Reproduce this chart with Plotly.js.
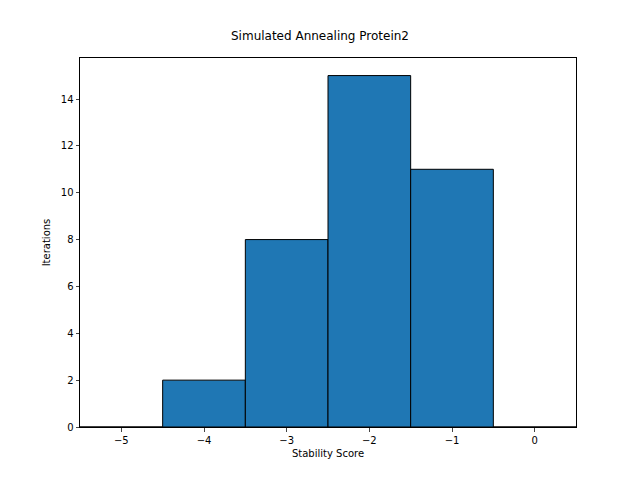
<html>
<head>
<script src="https://cdn.plot.ly/plotly-3.0.1.min.js"></script>
</head>
<body style="margin:0">
<div id="hist" style="width:640px;height:480px"></div>
<script>
var binCenters = [-5, -4, -3, -2, -1, 0];
var counts = [0, 2, 8, 15, 11, 0];
var tickVals = [-5, -4, -3, -2, -1, 0];
var tickText = ['\u22125', '\u22124', '\u22123', '\u22122', '\u22121', '0'];

var trace = {
    x: binCenters,
    y: counts,
    type: 'bar',
    width: 1,
    marker: { color: '#1f77b4', line: { color: 'black', width: 1 } }
};

var layout = {
    width: 640,
    height: 480,
    showlegend: false,
    paper_bgcolor: 'white',
    plot_bgcolor: 'white',
    font: { family: 'DejaVu Sans', size: 10, color: 'black' },
    margin: { l: 80, r: 64, t: 58, b: 53 },
    title: { text: 'Simulated Annealing Protein2', font: { size: 12 }, x: 0.5, y: 0.925, yanchor: 'middle' },
    xaxis: {
        range: [-5.5, 0.5],
        tickvals: tickVals,
        ticktext: tickText,
        ticks: 'outside', ticklen: 3.5,
        showgrid: false, zeroline: false,
        showline: true, mirror: true, linecolor: 'black', linewidth: 1,
        title: { text: 'Stability Score', font: { size: 10 }, standoff: 5 }
    },
    yaxis: {
        range: [0, 15.75],
        dtick: 2,
        ticks: 'outside', ticklen: 3.5,
        showgrid: false, zeroline: false,
        showline: true, mirror: true, linecolor: 'black', linewidth: 1,
        title: { text: 'Iterations', font: { size: 10 }, standoff: 8 }
    }
};

Plotly.newPlot('hist', [trace], layout, { displayModeBar: false });
</script>
</body>
</html>
